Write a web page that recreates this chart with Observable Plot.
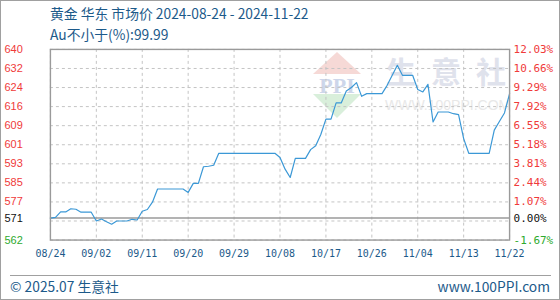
<!DOCTYPE html>
<html><head><meta charset="utf-8">
<script src="https://cdn.jsdelivr.net/npm/d3@7"></script>
<script src="https://cdn.jsdelivr.net/npm/@observablehq/plot@0.6"></script>
<style>
html,body{margin:0;padding:0;background:#fff;}
#wrap{position:absolute;left:0;top:0;width:558px;height:298px;border:1px solid #a0a0a0;overflow:hidden;font-family:"Noto Sans CJK SC","Liberation Sans",sans-serif;background:#fff;}
.t{position:absolute;color:#1c5a8a;font-size:13.8px;white-space:nowrap;line-height:1;}
.wm{position:absolute;white-space:nowrap;line-height:1;}
</style></head><body>
<div id="wrap">
  <svg class="wm" style="left:310px;top:49px" width="52" height="70">
    <polygon points="2,24 26,2 50,24" fill="#f6d9d6"/>
    <polygon points="2,44 50,44 26,68" fill="#d9efdb"/>
    <text x="26" y="43" text-anchor="middle" font-family="Liberation Serif,serif" font-size="22" font-weight="bold" fill="#cdd6ea">PPI</text>
  </svg>
  <div class="wm" style="left:385px;top:54px;font-size:30px;color:#dfe2ec;font-weight:bold"><span style="margin-right:15px">生</span><span style="margin-right:15px">意</span><span>社</span></div>
  <div class="wm" style="left:384px;top:97px;font-size:14px;color:#e8e8e8;font-family:'Liberation Sans',sans-serif">WWW.100PPI.COM</div>
  <div id="chart" style="position:absolute;left:-1px;top:-1px"></div>
  <div class="t" style="left:49px;top:6px">黄金 华东 市场价 2024-08-24 - 2024-11-22</div>
  <div class="t" style="left:49px;top:27px">Au不小于(%):99.99</div>
  <div style="position:absolute;left:9px;top:274px;width:541px;height:1px;background:#a0a0a0"></div>
  <div class="t" style="left:9px;top:279px">© 2025.07 生意社</div>
  <div class="t" style="right:9px;top:279px">www.100PPI.com</div>
</div>
<script>
const startDate = "2024-08-24";
const endDate = "2024-11-22";
const prices = [
  571, 571.3, 573.5, 573.5, 574.8, 574.6, 573.4, 573.4, 573.4, 569.8,
  570.6, 569.5, 568.5, 569.8, 569.8, 569.8, 570.5, 570.2, 573.8, 574.5,
  577.5, 582.9, 582.9, 582.9, 582.9, 582.9, 582.9, 581.5, 585.2, 585.2,
  592.0, 592.2, 592.6, 597.5, 597.5, 597.5, 597.5, 597.5, 597.5, 597.5,
  597.5, 597.5, 597.5, 597.5, 597.5, 595.8, 591.0, 587.6, 595.4, 595.4,
  595.4, 599.0, 600.6, 605.2, 611.5, 611.5, 618.1, 618.1, 623.0, 624.4,
  626.4, 620.8, 621.9, 621.9, 621.9, 621.9, 625.3, 629.4, 633.5, 629.4,
  629.4, 629.4, 623.6, 622.6, 625.7, 610.3, 614.4, 614.4, 614.4, 613.7,
  613.3, 603.5, 597.5, 597.5, 597.5, 597.5, 597.5, 607.0, 610.5, 614.0,
  621.9
];
const basePrice = 571;
const yTicks = [562, 569.8, 577.6, 585.4, 593.2, 601, 608.8, 616.6, 624.4, 632.2, 640];
const leftLabels = ["562", "", "577", "585", "593", "601", "609", "616", "624", "632", "640"];
const rightLabels = ["-1.67%", "", "1.07%", "2.44%", "3.81%", "5.18%", "6.55%", "7.92%", "9.29%", "10.66%", "12.03%"];
const baseLabels = ["571", "0.00%"];
const xTickLabels = ["08/24", "09/02", "09/11", "09/20", "09/29", "10/08", "10/17", "10/26", "11/04", "11/13", "11/22"];

const d0 = new Date(startDate + "T00:00:00Z");
const d1 = new Date(endDate + "T00:00:00Z");
const data = prices.map((p, i) => ({date: d3.utcDay.offset(d0, i), price: p}));
const xTicks = xTickLabels.map(s => new Date("2024-" + s.replace("/", "-") + "T00:00:00Z"));

const red = "#f03a3a", green = "#2eaa2e", black = "#111";
const colorOf = v => v > basePrice ? red : (v < basePrice ? green : black);

const plot = Plot.plot({
  width: 560, height: 300,
  marginTop: 49, marginBottom: 60, marginLeft: 50, marginRight: 50,
  style: {background: "transparent", overflow: "visible"},
  x: {type: "utc", domain: [d0, d1], axis: null},
  y: {domain: [562, 640], axis: null},
  marks: [
    Plot.ruleY(yTicks, {y: d => d, stroke: "#c4c4c4", strokeDasharray: "3,3"}),
    Plot.ruleX(xTicks, {x: d => d, stroke: "#c4c4c4", strokeDasharray: "3,3"}),
    Plot.ruleY([basePrice], {y: d => d, stroke: "#9a9a9a", strokeWidth: 1.6}),
    Plot.line(data, {x: "date", y: "price", stroke: "#3b98d6", strokeWidth: 1.2}),
    Plot.frame({stroke: "#9a9a9a", strokeWidth: 1.4}),
    Plot.text(yTicks, {y: d => d, text: (d, i) => leftLabels[i], frameAnchor: "left", textAnchor: "start", dx: -46,
      fill: d => colorOf(d), fontSize: 11, fontFamily: "Liberation Sans, sans-serif"}),
    Plot.text(yTicks, {y: d => d, text: (d, i) => rightLabels[i], frameAnchor: "right", textAnchor: "start", dx: 4,
      fill: d => colorOf(d), fontSize: 11, fontFamily: "DejaVu Sans Mono, monospace"}),
    Plot.text([basePrice], {y: d => d, text: () => baseLabels[0], frameAnchor: "left", textAnchor: "start", dx: -46,
      fill: black, fontSize: 11, fontFamily: "Liberation Sans, sans-serif"}),
    Plot.text([basePrice], {y: d => d, text: () => baseLabels[1], frameAnchor: "right", textAnchor: "start", dx: 4,
      fill: black, fontSize: 11, fontFamily: "DejaVu Sans Mono, monospace"}),
    Plot.text(xTicks, {x: d => d, text: (d, i) => xTickLabels[i], frameAnchor: "bottom", dy: 17,
      fill: "#1c5a8a", fontSize: 10, fontFamily: "DejaVu Sans Mono, monospace"})
  ]
});
document.getElementById("chart").appendChild(plot);
</script>
</body></html>
